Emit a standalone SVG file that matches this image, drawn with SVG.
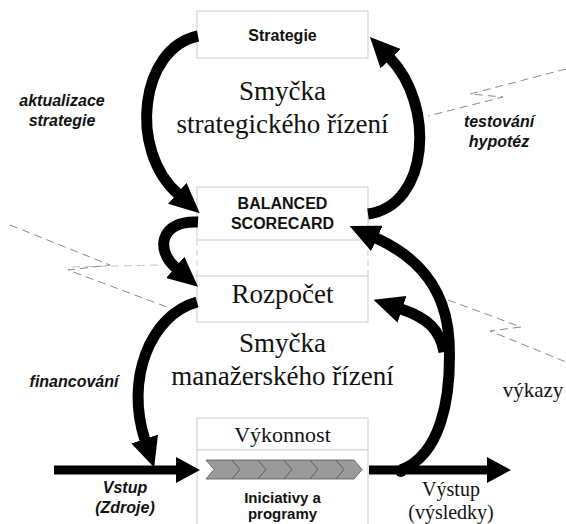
<svg xmlns="http://www.w3.org/2000/svg" width="566" height="524" viewBox="0 0 566 524">
<style>
.box{fill:#fff;stroke:#d4d4d4;stroke-width:1.2}
.gap{fill:none;stroke:#d4d4d4;stroke-width:1.2;stroke-dasharray:6 4}
.sans{font-family:"Liberation Sans",Arial,sans-serif;font-weight:bold;fill:#111}
.lab{font-family:"Liberation Sans",Arial,sans-serif;font-weight:bold;font-style:italic;font-size:16px;fill:#111}
.serif{font-family:"Liberation Serif","Times New Roman",serif;fill:#111}
.arc{fill:none;stroke:#000;stroke-width:11}
.dash{fill:none;stroke:#8a8a8a;stroke-width:1;stroke-dasharray:8 5}
.chev{fill:#9a9a9a;stroke:#555;stroke-width:0.8}
</style>
<defs>
<marker id="ah" markerUnits="userSpaceOnUse" markerWidth="30" markerHeight="28" refX="1" refY="14" orient="auto">
<path d="M0,0 L30,14 L0,28 z" fill="#000"/>
</marker>
<marker id="ahs" markerUnits="userSpaceOnUse" markerWidth="24" markerHeight="26" refX="1" refY="13" orient="auto">
<path d="M0,0 L24,13 L0,26 z" fill="#000"/>
</marker>
</defs>

<g id="dashes">
<polyline class="dash" points="566,69 470,94 503,97 428,116"/>
<polyline class="dash" points="10,225 110,265 68,270 167,307"/>
<line class="dash" x1="72" y1="267" x2="160" y2="265" stroke-opacity="0.5"/>
<polyline class="dash" points="448,300 521,327 490,331 566,362"/>
</g>

<g id="strategie">
<rect class="box" x="197" y="11" width="171" height="47"/>
<text class="sans" x="282.5" y="41" font-size="16" text-anchor="middle">Strategie</text>
</g>

<g id="bsc">
<rect class="box" x="197" y="187" width="171" height="53"/>
<text class="sans" x="282.5" y="209" font-size="16" text-anchor="middle">BALANCED</text>
<text class="sans" x="282.5" y="229" font-size="16" text-anchor="middle">SCORECARD</text>
</g>

<g id="gap">
<line class="gap" x1="197" y1="240" x2="197" y2="276"/>
<line class="gap" x1="368" y1="240" x2="368" y2="276"/>
</g>

<g id="rozpocet">
<rect class="box" x="197" y="276" width="171" height="46"/>
<text class="serif" x="282.5" y="303" font-size="27" text-anchor="middle">Rozpočet</text>
</g>

<g id="vykonnost">
<rect class="box" x="197" y="418" width="171" height="32"/>
<text class="serif" x="282.5" y="442" font-size="22" text-anchor="middle">Výkonnost</text>
</g>

<g id="iniciativy">
<path class="box" d="M197,524 L197,450 L368,450 L368,524"/>
<polygon class="chev" points="206,460 232,460 240,469.5 232,479 206,479 214,469.5"/>
<polygon class="chev" points="232,460 258,460 266,469.5 258,479 232,479 240,469.5"/>
<polygon class="chev" points="258,460 284,460 292,469.5 284,479 258,479 266,469.5"/>
<polygon class="chev" points="284,460 310,460 318,469.5 310,479 284,479 292,469.5"/>
<polygon class="chev" points="310,460 336,460 344,469.5 336,479 310,479 318,469.5"/>
<polygon class="chev" points="336,460 354,460 362,469.5 354,479 336,479 344,469.5"/>
<text class="sans" x="282.5" y="503" font-size="15" text-anchor="middle">Iniciativy a</text>
<text class="sans" x="282.5" y="519" font-size="15" text-anchor="middle">programy</text>
</g>

<g id="titles">
<text class="serif" x="282.5" y="100" font-size="27" text-anchor="middle">Smyčka</text>
<text class="serif" x="282.5" y="133" font-size="27" text-anchor="middle">strategického řízení</text>
<text class="serif" x="282.5" y="352" font-size="27" text-anchor="middle">Smyčka</text>
<text class="serif" x="282.5" y="385" font-size="27" text-anchor="middle">manažerského řízení</text>
</g>

<g id="labels">
<text class="lab" x="62" y="106" text-anchor="middle">aktualizace</text>
<text class="lab" x="62" y="126" text-anchor="middle">strategie</text>
<text class="lab" x="499" y="127" text-anchor="middle">testování</text>
<text class="lab" x="499" y="147" text-anchor="middle">hypotéz</text>
<text class="lab" x="74" y="387" text-anchor="middle">financování</text>
<text class="lab" x="125" y="493" text-anchor="middle">Vstup</text>
<text class="lab" x="125" y="513" text-anchor="middle">(Zdroje)</text>
<text class="serif" x="451" y="496" font-size="20" text-anchor="middle">Výstup</text>
<text class="serif" x="451" y="519" font-size="20" text-anchor="middle">(výsledky)</text>
<text class="serif" x="533" y="397" font-size="21" text-anchor="middle">výkazy</text>
</g>

<g id="connectors">
<path class="arc" d="M198,36 C140,48 128,150 178,194" marker-end="url(#ah)"/>
<path class="arc" d="M368,214 C430,205 435,105 390,58" marker-end="url(#ah)"/>
<path class="arc" d="M198,222 C160,220 155,250 176,268" marker-end="url(#ah)"/>
<path class="arc" d="M197,302 C150,315 125,380 145,440" marker-end="url(#ah)"/>
<path class="arc" d="M401,470 C440,455 452,400 449,340 C446,290 420,258 376,238" marker-end="url(#ah)"/>
<path class="arc" d="M444,352 C440,330 428,318 401,309" stroke-width="9" marker-end="url(#ah)"/>
<line x1="54" y1="470" x2="177" y2="470" stroke="#000" stroke-width="9" marker-end="url(#ahs)"/>
<line x1="369" y1="470" x2="488" y2="470" stroke="#000" stroke-width="9" marker-end="url(#ahs)"/>
<circle cx="401" cy="471" r="6" fill="#000"/>
</g>
</svg>
